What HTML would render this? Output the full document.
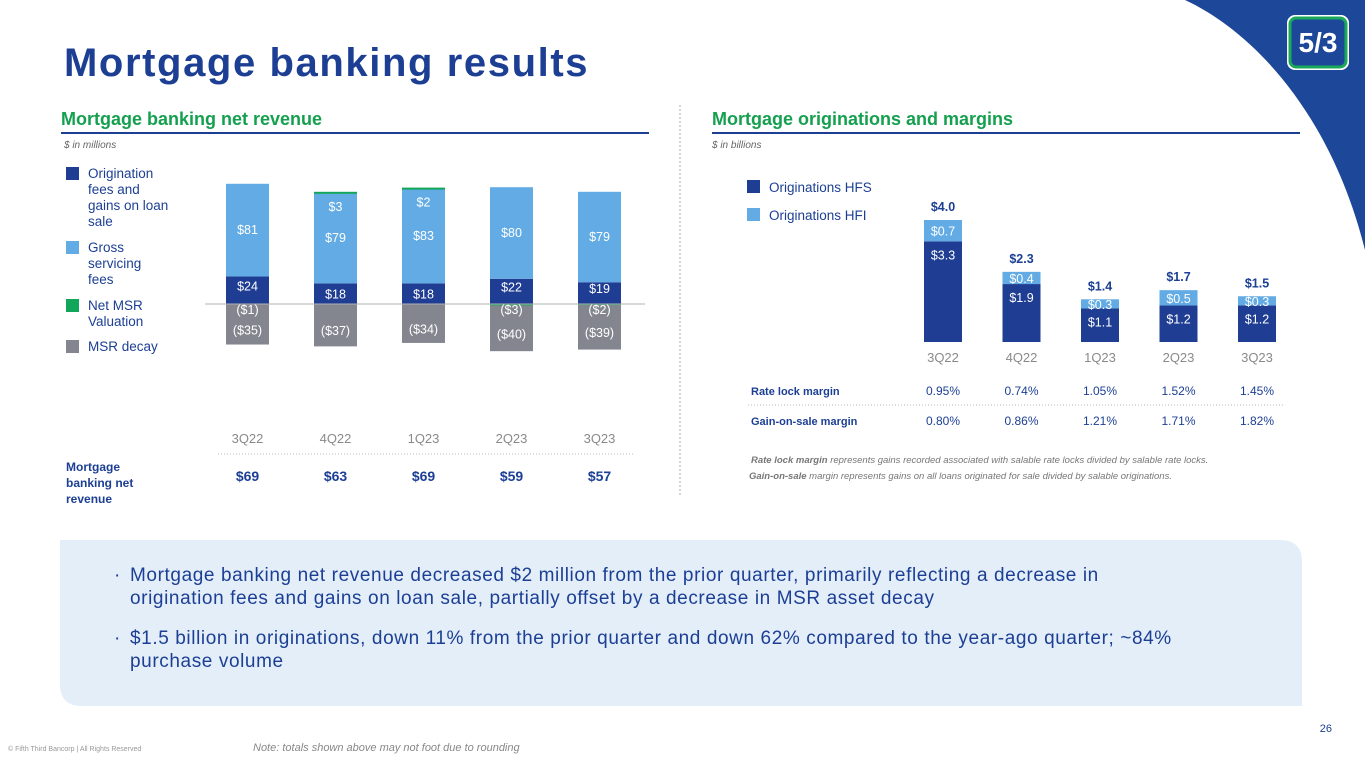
<!DOCTYPE html>
<html><head><meta charset="utf-8"><style>
body{margin:0;width:1365px;height:768px;overflow:hidden;background:#fff;font-family:"Liberation Sans",sans-serif;position:relative}
.abs{position:absolute}
</style></head><body>
<svg id="bg" class="abs" style="left:0;top:0" width="1365" height="768">
<path d="M1185,0 C1250,30 1330,110 1365,250 L1365,0 Z" fill="#1d4799"/>
<g>
<rect x="1287" y="15" width="62" height="55" rx="8" fill="#fff"/>
<rect x="1290" y="18" width="56" height="49" rx="6" fill="#1d4799" stroke="#1aa85a" stroke-width="3"/>
<text x="1318" y="52" font-size="28" font-weight="bold" fill="#fff" text-anchor="middle" font-family="Liberation Sans,sans-serif">5/3</text>
</g>
<text x="64" y="76" font-size="40" font-weight="bold" fill="#1c3f94" letter-spacing="1.6">Mortgage banking results</text>
<text x="61" y="125" font-size="18" font-weight="bold" fill="#15a04f">Mortgage banking net revenue</text>
<line x1="61" y1="133" x2="649" y2="133" stroke="#1c3f94" stroke-width="2"/>
<text x="64" y="148" font-size="10" font-style="italic" fill="#666">$ in millions</text>
<text x="712" y="125" font-size="18" font-weight="bold" fill="#15a04f">Mortgage originations and margins</text>
<line x1="712" y1="133" x2="1300" y2="133" stroke="#1c3f94" stroke-width="2"/>
<text x="712" y="148" font-size="10" font-style="italic" fill="#666">$ in billions</text>
<line x1="680" y1="105" x2="680" y2="495" stroke="#aaa" stroke-dasharray="2,2"/>
<g font-size="13.5" fill="#1c3f94">
<rect x="66" y="167" width="13" height="13" fill="#1f3e93"/><text x="88" y="178">Origination</text><text x="88" y="194">fees and</text><text x="88" y="210">gains on loan</text><text x="88" y="226">sale</text>
<rect x="66" y="241" width="13" height="13" fill="#62abe4"/><text x="88" y="252">Gross</text><text x="88" y="268">servicing</text><text x="88" y="284">fees</text>
<rect x="66" y="299" width="13" height="13" fill="#12a65a"/><text x="88" y="310">Net MSR</text><text x="88" y="326">Valuation</text>
<rect x="66" y="340" width="13" height="13" fill="#84868f"/><text x="88" y="351">MSR decay</text>
</g>
<g id="left-chart"></g>
<line x1="218" y1="454" x2="635" y2="454" stroke="#bbb" stroke-dasharray="1,2"/>
<g font-size="12" font-weight="bold" fill="#1c3f94"><text x="66" y="471">Mortgage</text><text x="66" y="487">banking net</text><text x="66" y="503">revenue</text></g>
<g font-size="13.5" fill="#1c3f94">
<rect x="747" y="180" width="13" height="13" fill="#1f3e93"/><text x="769" y="192">Originations HFS</text>
<rect x="747" y="208" width="13" height="13" fill="#62abe4"/><text x="769" y="220">Originations HFI</text>
</g>
<g id="right-chart"></g>
<line x1="748" y1="405" x2="1285" y2="405" stroke="#bbb" stroke-dasharray="1,2"/>
<g font-size="11" font-weight="bold" fill="#1c3f94"><text x="751" y="395">Rate lock margin</text><text x="751" y="425">Gain-on-sale margin</text></g>
<g font-size="9.5" font-style="italic" fill="#777">
<text x="751" y="463"><tspan font-weight="bold">Rate lock margin</tspan> represents gains recorded associated with salable rate locks divided by salable rate locks.</text>
<text x="749" y="479"><tspan font-weight="bold">Gain-on-sale</tspan> margin represents gains on all loans originated for sale divided by salable originations.</text>
</g>
<path d="M60,540 H1280 Q1302,540 1302,562 V706 H82 Q60,706 60,684 Z" fill="#e3eef9"/>
<text x="1332" y="732" font-size="11" fill="#1c3f94" text-anchor="end">26</text>
<text x="8" y="751" font-size="7" fill="#999">© Fifth Third Bancorp | All Rights Reserved</text>
<text x="253" y="751" font-size="11" font-style="italic" fill="#888">Note: totals shown above may not foot due to rounding</text>
</svg>
<div class="abs" style="left:130px;top:564px;width:1060px;font-size:19px;letter-spacing:0.6px;line-height:23px;color:#1c3f94">
<div style="position:relative;margin-bottom:17px"><span style="position:absolute;left:-16px">·</span>Mortgage banking net revenue decreased $2 million from the prior quarter, primarily reflecting a decrease in origination fees and gains on loan sale, partially offset by a decrease in MSR asset decay</div>
<div style="position:relative"><span style="position:absolute;left:-16px">·</span>$1.5 billion in originations, down 11% from the prior quarter and down 62% compared to the year-ago quarter; ~84% purchase volume</div>
</div>
<script>
const quarters=["3Q22","4Q22","1Q23","2Q23","3Q23"];
const origFees=[24,18,18,22,19];
const servFees=[81,79,83,80,79];
const netMsr=[-1,3,2,-3,-2];
const msrDecay=[-35,-37,-34,-40,-39];
const netRevenue=["$69","$63","$69","$59","$57"];
const hfs=[3.3,1.9,1.1,1.2,1.2];
const hfi=[0.7,0.4,0.3,0.5,0.3];
const totals=["$4.0","$2.3","$1.4","$1.7","$1.5"];
const rateLock=["0.95%","0.74%","1.05%","1.52%","1.45%"];
const gainOnSale=["0.80%","0.86%","1.21%","1.71%","1.82%"];
const NS="http://www.w3.org/2000/svg";
function mk(parent,tag,attrs,txt){const e=document.createElementNS(NS,tag);for(const k in attrs)e.setAttribute(k,attrs[k]);if(txt!==undefined)e.textContent=txt;parent.appendChild(e);return e;}
const fmt=v=>v<0?"($"+Math.abs(v)+")":"$"+v;
const L=document.getElementById("left-chart");
const y0=304,ls=1.145,lx=i=>247.5+i*88,bw=43;
const ly=v=>y0-v*ls;
quarters.forEach((q,i)=>{
 const cx=lx(i);
 let r=mk(L,"rect",{x:cx-bw/2,y:ly(origFees[i]),width:bw,height:origFees[i]*ls,fill:"#1f3e93"});
 
 r=mk(L,"rect",{x:cx-bw/2,y:ly(origFees[i]+servFees[i]),width:bw,height:servFees[i]*ls,fill:"#62abe4"});
 
 if(netMsr[i]>0){r=mk(L,"rect",{x:cx-bw/2,y:ly(origFees[i]+servFees[i]+netMsr[i]*0.33),width:bw,height:Math.max(2,netMsr[i]*ls*0.33),fill:"#12a65a"});}
 else{r=mk(L,"rect",{x:cx-bw/2,y:y0,width:bw,height:Math.max(2,-netMsr[i]*ls*0.4),fill:"#12a65a"});}
 
 const top=y0+(netMsr[i]<0?-netMsr[i]*ls*0.4:0);
 r=mk(L,"rect",{x:cx-bw/2,y:top,width:bw,height:-msrDecay[i]*ls,fill:"#84868f"});
 
 const g={"font-size":12.5,fill:"#fff","text-anchor":"middle"};
 mk(L,"text",Object.assign({x:cx,y:ly(origFees[i]/2)+(netMsr[i]<0?0:5)},g),fmt(origFees[i]));
 mk(L,"text",Object.assign({x:cx,y:ly(origFees[i]+servFees[i]/2)+4},g),fmt(servFees[i]));
 if(netMsr[i]>0) mk(L,"text",Object.assign({x:cx,y:ly(origFees[i]+servFees[i])+18},g),fmt(netMsr[i]));
 else mk(L,"text",Object.assign({x:cx,y:y0+10},g),fmt(netMsr[i]));
 mk(L,"text",Object.assign({x:cx,y:top-msrDecay[i]*ls/2+10},g),fmt(msrDecay[i]));
 mk(L,"text",{x:cx,y:443,"font-size":13,fill:"#8a8a8a","text-anchor":"middle"},q);
 mk(L,"text",{x:cx,y:481,"font-size":14,"font-weight":"bold",fill:"#1c3f94","text-anchor":"middle"},netRevenue[i]);
});
mk(L,"line",{x1:205,y1:y0,x2:645,y2:y0,stroke:"#b0b0b0","stroke-width":1});
const R=document.getElementById("right-chart");
const b0=342,rs=30.5,rx=i=>943+i*78.5,rw=38;
const ry=v=>b0-v*rs;
quarters.forEach((q,i)=>{
 const cx=rx(i);
 let r=mk(R,"rect",{x:cx-rw/2,y:ry(hfs[i]),width:rw,height:hfs[i]*rs,fill:"#1f3e93"});
 
 r=mk(R,"rect",{x:cx-rw/2,y:ry(hfs[i]+hfi[i]),width:rw,height:hfi[i]*rs,fill:"#62abe4"});
 
 const g={"font-size":12.5,fill:"#fff","text-anchor":"middle"};
 mk(R,"text",Object.assign({x:cx,y:ry(hfs[i])+18},g),"$"+hfs[i].toFixed(1));
 mk(R,"text",Object.assign({x:cx,y:ry(hfs[i]+hfi[i]/2)+5},g),"$"+hfi[i].toFixed(1));
 mk(R,"text",{x:cx,y:ry(hfs[i]+hfi[i])-9,"font-size":12.5,"font-weight":"bold",fill:"#1c3f94","text-anchor":"middle"},totals[i]);
 mk(R,"text",{x:cx,y:362,"font-size":13,fill:"#8a8a8a","text-anchor":"middle"},q);
 mk(R,"text",{x:cx,y:395,"font-size":12,fill:"#1c3f94","text-anchor":"middle"},rateLock[i]);
 mk(R,"text",{x:cx,y:425,"font-size":12,fill:"#1c3f94","text-anchor":"middle"},gainOnSale[i]);
});
</script>
</body></html>
